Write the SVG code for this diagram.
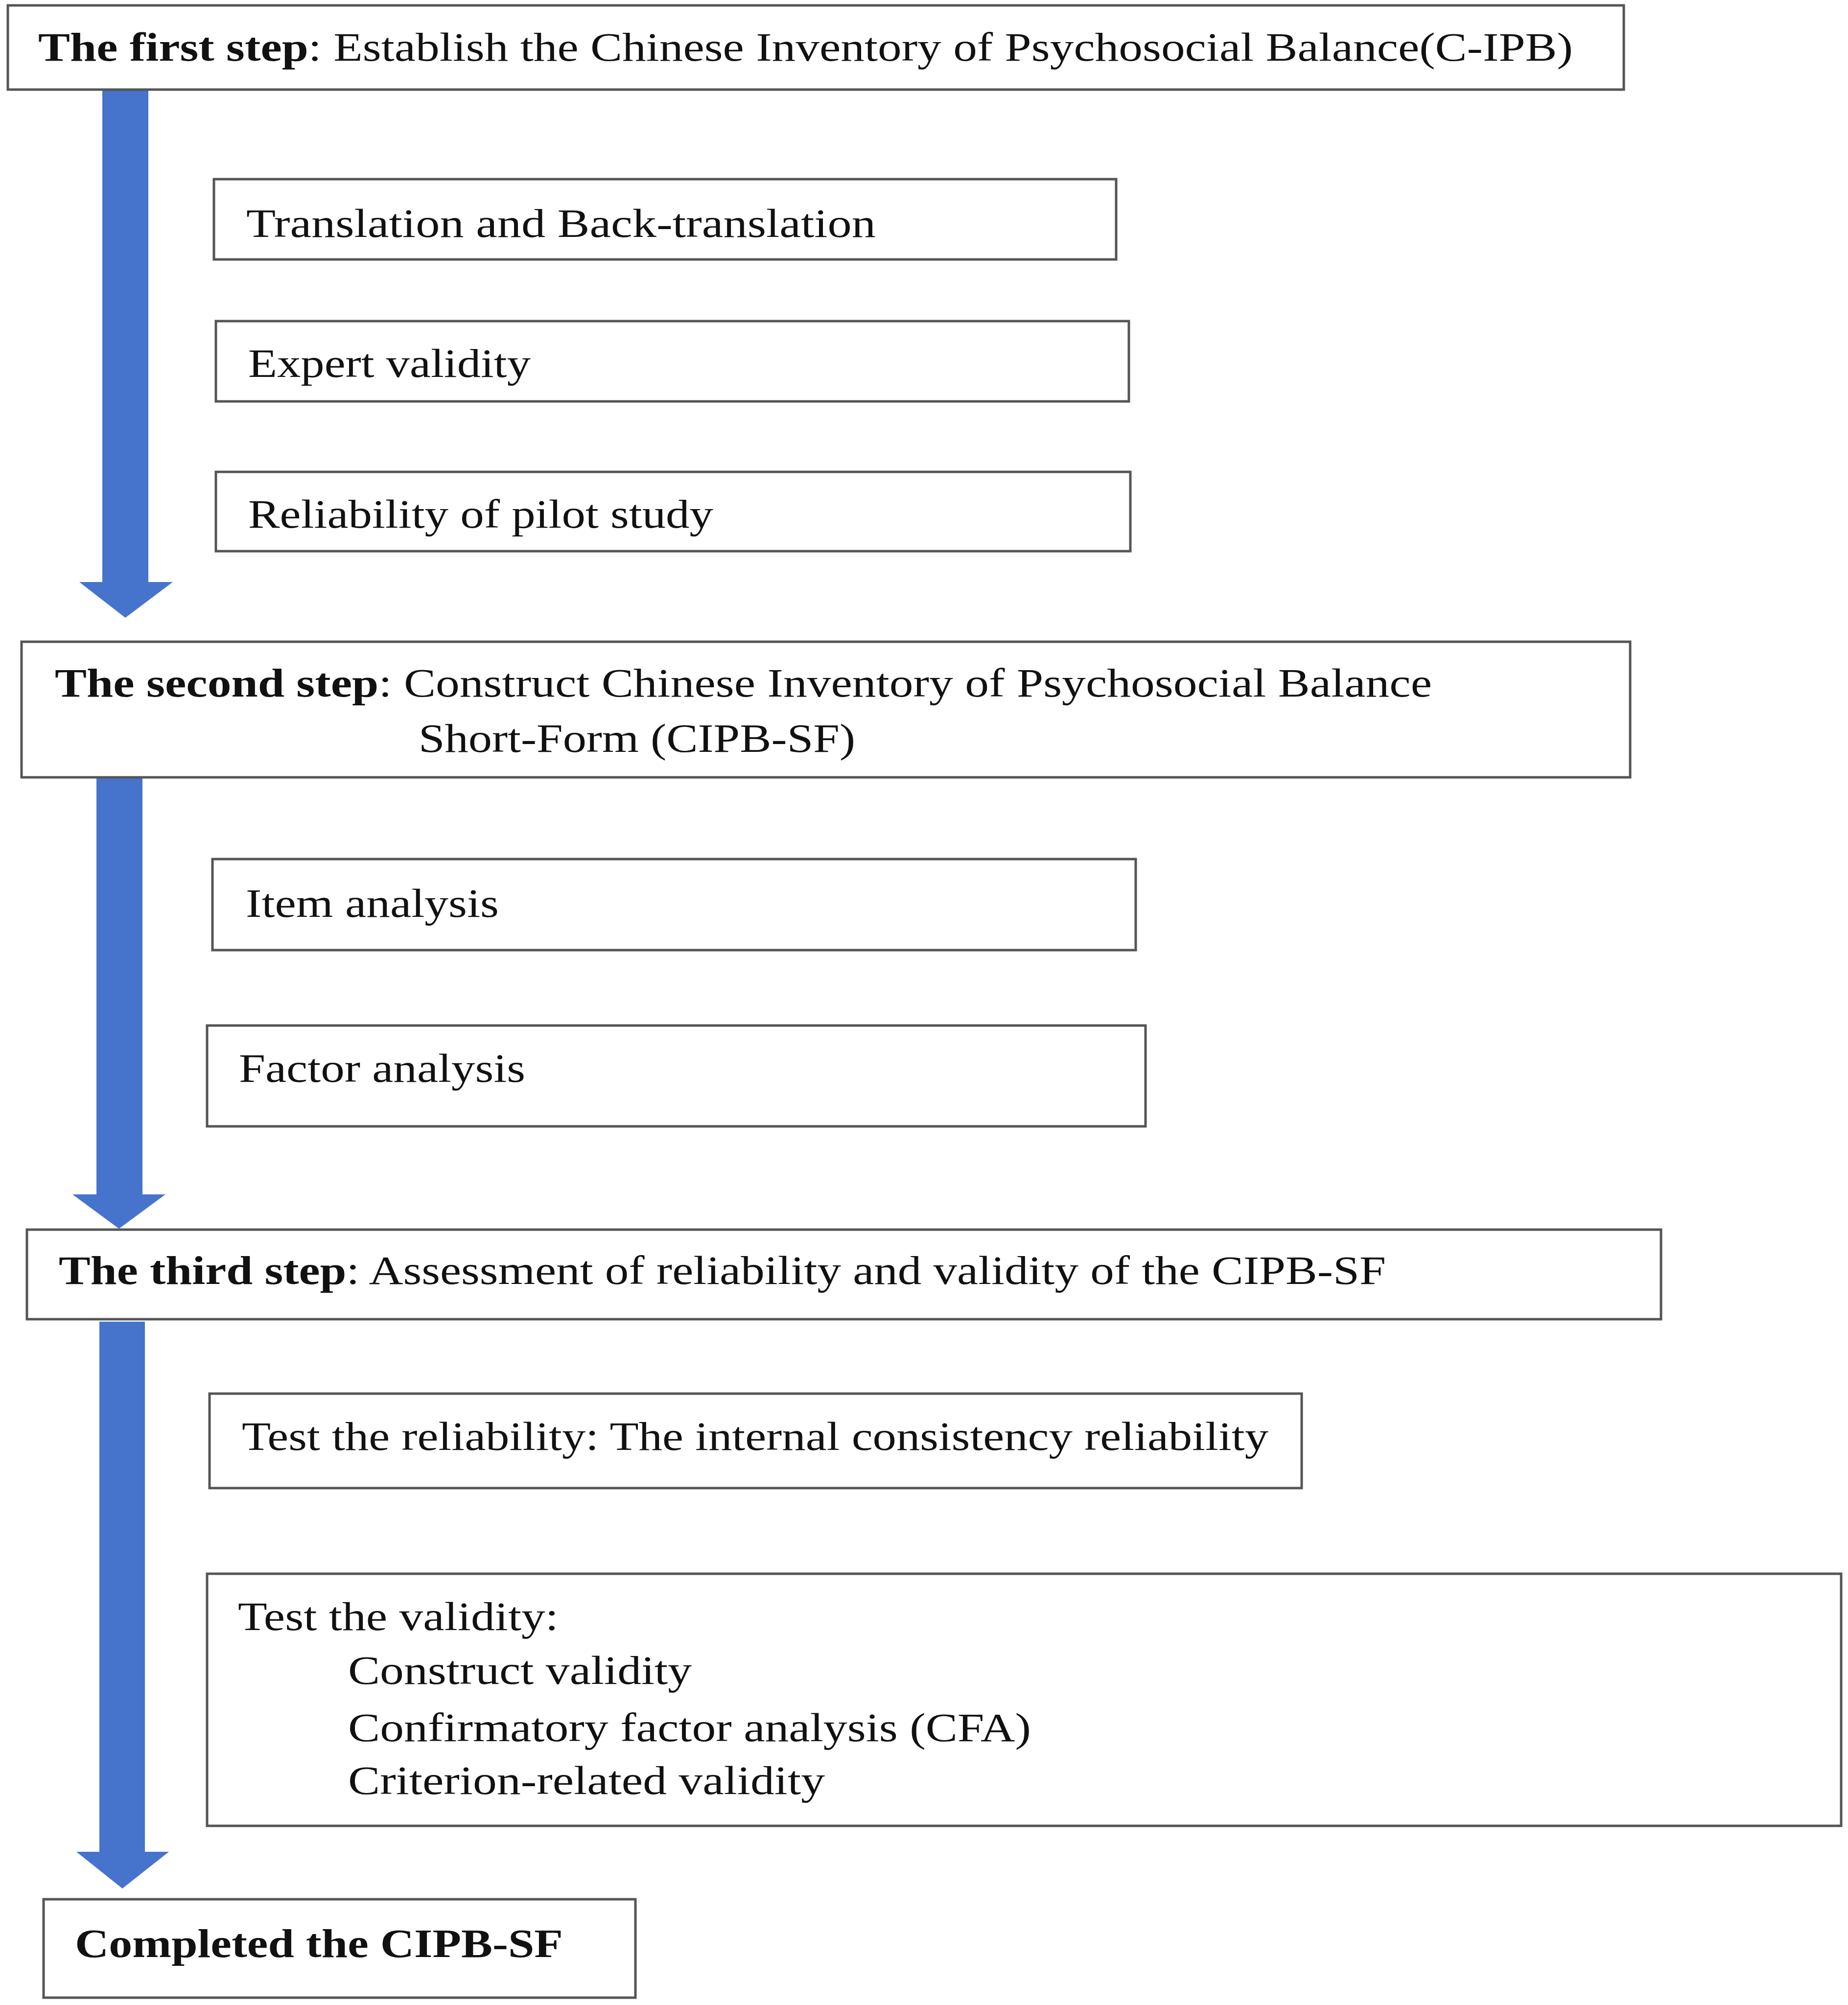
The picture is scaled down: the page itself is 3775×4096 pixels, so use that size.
<svg xmlns="http://www.w3.org/2000/svg" width="3775" height="4096" viewBox="0 0 3775 4096">
<style>
.box{fill:#ffffff;stroke:#555555;stroke-width:5}
.t{font-family:"Liberation Serif","Times New Roman",serif;font-size:82px;fill:#111111}
.b{font-weight:bold}
.arrow{fill:#4673CC}
</style>
<rect width="3775" height="4096" fill="#ffffff"/>
<g id="connectors">
<path class="arrow" d="M209 183 H303 V1189 H353 L256 1262 L162 1189 H209 Z"/>
<path class="arrow" d="M197 1590 H291 V2440 H338 L243 2510 L148 2440 H197 Z"/>
<path class="arrow" d="M203 2700 H296 V3783 H345 L250 3858 L156 3783 H203 Z"/>
</g>
<g id="step1">
<rect class="box" x="16" y="11" width="3301" height="172"/>
<text class="t" x="78" y="124" textLength="3135" lengthAdjust="spacingAndGlyphs"><tspan class="b">The first step</tspan>: Establish the Chinese Inventory of Psychosocial Balance(C-IPB)</text>
</g>
<g id="translation">
<rect class="box" x="437" y="366" width="1843" height="164"/>
<text class="t" x="503" y="484" textLength="1286" lengthAdjust="spacingAndGlyphs">Translation and Back-translation</text>
</g>
<g id="expert">
<rect class="box" x="441" y="656" width="1865" height="164"/>
<text class="t" x="507" y="770" textLength="577" lengthAdjust="spacingAndGlyphs">Expert validity</text>
</g>
<g id="pilot">
<rect class="box" x="441" y="964" width="1868" height="162"/>
<text class="t" x="507" y="1078" textLength="950" lengthAdjust="spacingAndGlyphs">Reliability of pilot study</text>
</g>
<g id="step2">
<rect class="box" x="44" y="1311" width="3286" height="277"/>
<text class="t" x="112" y="1423" textLength="2813" lengthAdjust="spacingAndGlyphs"><tspan class="b">The second step</tspan>: Construct Chinese Inventory of Psychosocial Balance</text>
<text class="t" x="855" y="1536" textLength="892" lengthAdjust="spacingAndGlyphs">Short-Form (CIPB-SF)</text>
</g>
<g id="item">
<rect class="box" x="434" y="1755" width="1886" height="186"/>
<text class="t" x="502" y="1873" textLength="517" lengthAdjust="spacingAndGlyphs">Item analysis</text>
</g>
<g id="factor">
<rect class="box" x="423" y="2095" width="1917" height="206"/>
<text class="t" x="488" y="2210" textLength="585" lengthAdjust="spacingAndGlyphs">Factor analysis</text>
</g>
<g id="step3">
<rect class="box" x="55" y="2512" width="3338" height="183"/>
<text class="t" x="120" y="2623" textLength="2711" lengthAdjust="spacingAndGlyphs"><tspan class="b">The third step</tspan>: Assessment of reliability and validity of the CIPB-SF</text>
</g>
<g id="reliability">
<rect class="box" x="428" y="2847" width="2231" height="193"/>
<text class="t" x="494" y="2962" textLength="2097" lengthAdjust="spacingAndGlyphs">Test the reliability: The internal consistency reliability</text>
</g>
<g id="validity">
<rect class="box" x="423" y="3215" width="3338" height="515"/>
<text class="t" x="486" y="3330" textLength="655" lengthAdjust="spacingAndGlyphs">Test the validity:</text>
<text class="t" x="711" y="3440" textLength="702" lengthAdjust="spacingAndGlyphs">Construct validity</text>
<text class="t" x="711" y="3557" textLength="1395" lengthAdjust="spacingAndGlyphs">Confirmatory factor analysis (CFA)</text>
<text class="t" x="711" y="3665" textLength="974" lengthAdjust="spacingAndGlyphs">Criterion-related validity</text>
</g>
<g id="completed">
<rect class="box" x="89" y="3880" width="1209" height="201"/>
<text class="t b" x="153" y="3998" textLength="997" lengthAdjust="spacingAndGlyphs">Completed the CIPB-SF</text>
</g>
</svg>
